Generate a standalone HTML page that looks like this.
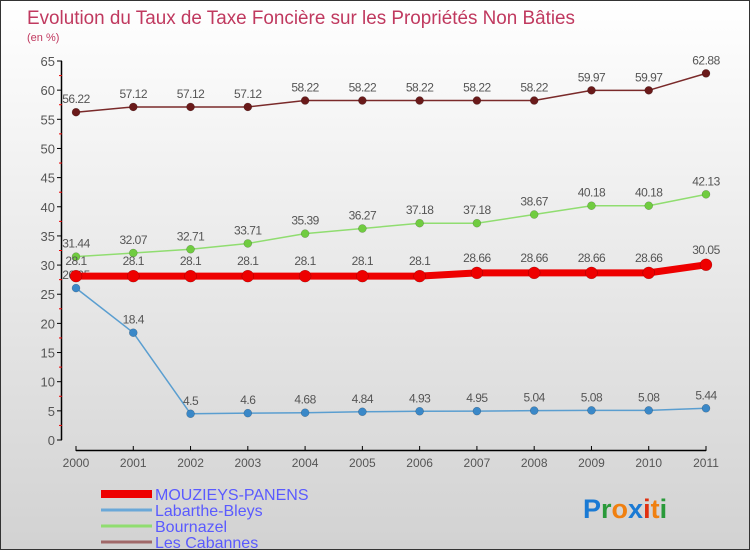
<!DOCTYPE html>
<html><head><meta charset="utf-8"><style>
html,body{margin:0;padding:0;}
body{width:750px;height:550px;overflow:hidden;}
#wrap{position:relative;width:748px;height:548px;border:1px solid #333;background:linear-gradient(#ffffff,#d2d2d2);font-family:"Liberation Sans",sans-serif;}
svg{position:absolute;left:0;top:0;}
</style></head><body>
<div id="wrap">
<svg id="chart" width="748" height="548">
<text x="26" y="23" font-size="19" fill="#c0395f" textLength="548" lengthAdjust="spacingAndGlyphs">Evolution du Taux de Taxe Foncière sur les Propriétés Non Bâties</text>
<text x="26" y="40" font-size="11" fill="#c0395f">(en %)</text>
<g id="axes"></g><g id="series"></g><g id="legend"></g>
<text x="582" y="517" font-size="27" font-weight="bold" font-family="'Liberation Sans',sans-serif"><tspan fill="#1a7ad4">P</tspan><tspan fill="#2a9a3a">r</tspan><tspan fill="#f08010">o</tspan><tspan fill="#1a7ad4">x</tspan><tspan fill="#e03010">i</tspan><tspan fill="#f08010">t</tspan><tspan fill="#2a9a3a">i</tspan></text>
</svg></div>
<script>
const years=[2000,2001,2002,2003,2004,2005,2006,2007,2008,2009,2010,2011];
const mouzieys=[28.1,28.1,28.1,28.1,28.1,28.1,28.1,28.66,28.66,28.66,28.66,30.05];
const labarthe=[26.05,18.4,4.5,4.6,4.68,4.84,4.93,4.95,5.04,5.08,5.08,5.44];
const bournazel=[31.44,32.07,32.71,33.71,35.39,36.27,37.18,37.18,38.67,40.18,40.18,42.13];
const cabannes=[56.22,57.12,57.12,57.12,58.22,58.22,58.22,58.22,58.22,59.97,59.97,62.88];
const yTicks=[0,5,10,15,20,25,30,35,40,45,50,55,60,65];
const seriesNames=["MOUZIEYS-PANENS","Labarthe-Bleys","Bournazel","Les Cabannes"];
const NS="http://www.w3.org/2000/svg";
function X(i){return 75+i*(630/11);}
function Y(v){return 439-v*(379/65);}
function mk(tag,attrs,parent,text){const e=document.createElementNS(NS,tag);for(const k in attrs)e.setAttribute(k,attrs[k]);if(text!==undefined)e.textContent=text;parent.appendChild(e);return e;}
const axes=document.getElementById('axes');
let ya=mk('line',{x1:60.5,y1:Y(65),x2:60.5,y2:439,stroke:'#000','stroke-width':1.5},axes);

yTicks.forEach(t=>{
 const l=mk('line',{x1:56,y1:Y(t),x2:61,y2:Y(t),stroke:'#000'},axes);
 
 const tx=mk('text',{x:54,y:Y(t)+5,'text-anchor':'end','font-size':13,fill:'#555'},axes,String(t));
 
 if(t<65){const m=mk('line',{x1:58,y1:Y(t+2.5),x2:61,y2:Y(t+2.5),stroke:'#e00'},axes);
 }
});
let xa=mk('line',{x1:75,y1:449.5,x2:705,y2:449.5,stroke:'#000','stroke-width':1.5},axes);

years.forEach((y,i)=>{
 const l=mk('line',{x1:X(i),y1:445,x2:X(i),y2:450,stroke:'#000'},axes);
 
 const t=mk('text',{x:X(i),y:466,'text-anchor':'middle','font-size':12,fill:'#555'},axes,String(y));
 
});
const sg=document.getElementById('series');
function draw(vals,color,pcolor,w,r,name){
 const g=mk('g',{},sg);
 
 const pl=mk('polyline',{points:vals.map((v,i)=>X(i)+','+Y(v)).join(' '),fill:'none',stroke:color,'stroke-width':w,'stroke-linejoin':'round'},g);
 
 vals.forEach((v,i)=>{
  const c=mk('circle',{cx:X(i),cy:Y(v),r:r,fill:pcolor,stroke:'rgba(0,0,0,0.3)','stroke-width':0.5},g);
  
  const t=mk('text',{x:X(i),y:Y(v)-r-5,'text-anchor':'middle','font-size':12,fill:'#555','letter-spacing':'-0.5'},g,String(v));
  
 });
}
draw(cabannes,'#7a2a2a','#6a1a1a',1.5,4,'les-cabannes');
draw(bournazel,'#90dd70','#70cc40',1.5,4,'bournazel');
draw(labarthe,'#5a9ed0','#3a88c8',1.5,4,'labarthe-bleys');
draw(mouzieys,'#ee0000','#ee0000',7,6,'mouzieys-panens');
const lg=document.getElementById('legend');
const lcol=['#ee0000','#6aa8d8','#90dd70','#a06868'];const lw=[8,3,3,3];
seriesNames.forEach((n,i)=>{
 const y=492+i*16;
 const l=mk('line',{x1:100,y1:y+1,x2:151,y2:y+1,stroke:lcol[i],'stroke-width':lw[i]},lg);
 
 const t=mk('text',{x:154,y:y+7,'font-size':16,fill:'#5a5aff'},lg,n);
 
});
</script>
</body></html>
